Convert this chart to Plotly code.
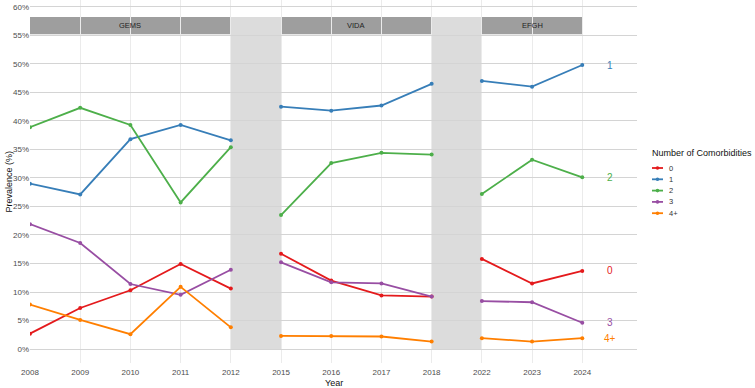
import plotly.graph_objects as go

# ---------------- data ----------------
years = ["2008", "2009", "2010", "2011", "2012",
         "2015", "2016", "2017", "2018",
         "2022", "2023", "2024"]
studies = ["GEMS"] * 5 + ["VIDA"] * 4 + ["EFGH"] * 3
study_names = ["GEMS", "VIDA", "EFGH"]

series_names = ["0", "1", "2", "3", "4+"]
prev_0 = [2.7, 7.2, 10.3, 14.9, 10.6, 16.7, 12.0, 9.4, 9.2, 15.8, 11.5, 13.7]
prev_1 = [29.0, 27.1, 36.8, 39.3, 36.6, 42.5, 41.8, 42.7, 46.5, 47.0, 46.0, 49.8]
prev_2 = [38.9, 42.3, 39.3, 25.7, 35.4, 23.5, 32.6, 34.4, 34.1, 27.2, 33.2, 30.1]
prev_3 = [21.9, 18.6, 11.4, 9.5, 13.9, 15.2, 11.7, 11.5, 9.2, 8.4, 8.2, 4.6]
prev_4 = [7.8, 5.1, 2.6, 10.9, 3.8, 2.3, 2.3, 2.2, 1.3, 1.9, 1.3, 1.9]
series_values = [prev_0, prev_1, prev_2, prev_3, prev_4]

colors = ["#E41A1C", "#377EB8", "#4DAF4A", "#984EA3", "#FF7F00"]
y_ticks = list(range(0, 61, 5))

FONT = "Liberation Sans, Arial, sans-serif"

fig = go.Figure()

def split_xy(vals):
    xs, ys = [], []
    for i, v in enumerate(vals):
        if i > 0 and studies[i] != studies[i - 1]:
            xs.append(None)
            ys.append(None)
        xs.append(i)
        ys.append(v)
    return xs, ys

# strips and shaded gaps between study periods
strip_lo, strip_hi = 55.2, 58.2
for s in study_names:
    idx = [i for i, st in enumerate(studies) if st == s]
    fig.add_shape(type="rect", xref="x", yref="y", x0=idx[0], x1=idx[-1],
                  y0=strip_lo, y1=strip_hi, fillcolor="#9e9e9e",
                  line=dict(width=0), layer="below")
    fig.add_annotation(x=(idx[0] + idx[-1]) / 2, y=(strip_lo + strip_hi) / 2,
                       text=s, showarrow=False,
                       font=dict(family=FONT, size=7.5, color="#222222"))
for i in range(1, len(years)):
    if studies[i] != studies[i - 1]:
        fig.add_shape(type="rect", xref="x", yref="y", x0=i - 1, x1=i,
                      y0=0, y1=strip_hi, fillcolor="#dcdcdc",
                      line=dict(width=0), layer="below")

for name, vals, col in zip(series_names, series_values, colors):
    xs, ys = split_xy(vals)
    fig.add_trace(go.Scatter(
        x=xs, y=ys, mode="lines+markers", name=name,
        line=dict(color=col, width=1.8),
        marker=dict(color=col, size=4),
        connectgaps=False, showlegend=False,
    ))
    fig.add_annotation(x=len(years) - 1 + 0.55, y=vals[-1], text=name,
                       showarrow=False, xanchor="center",
                       font=dict(family=FONT, size=10, color=col))

# manual compact legend (ggplot-style) in the right margin
W, H, L, B = 755, 388, 30, 25
pw, ph = W - L - 118, H - B
def px(xp):
    return (xp - L) / pw
def py(yp):
    return (H - B - yp) / ph

fig.add_annotation(xref="paper", yref="paper", x=px(650), y=py(153),
                   xanchor="left", yanchor="middle",
                   text="Number of Comorbidities", showarrow=False,
                   font=dict(family=FONT, size=9, color="#111111"))
for k, (name, col) in enumerate(zip(series_names, colors)):
    yy = 168 + k * 11.3
    fig.add_shape(type="line", xref="paper", yref="paper",
                  x0=px(652), x1=px(663), y0=py(yy), y1=py(yy),
                  line=dict(color=col, width=1.8))
    fig.add_shape(type="circle", xref="paper", yref="paper",
                  x0=px(655.7), x1=px(659.3), y0=py(yy + 1.8), y1=py(yy - 1.8),
                  fillcolor=col, line=dict(width=0))
    fig.add_annotation(xref="paper", yref="paper", x=px(667), y=py(yy),
                       xanchor="left", yanchor="middle", text=name,
                       showarrow=False,
                       font=dict(family=FONT, size=7.5, color="#333333"))

fig.update_layout(
    width=W, height=H,
    margin=dict(l=L, r=118, t=0, b=B),
    plot_bgcolor="white", paper_bgcolor="white",
    font=dict(family=FONT, size=8, color="#4d4d4d"),
    showlegend=False,
)
fig.update_xaxes(
    range=[0, 12.09], tickmode="array",
    tickvals=list(range(len(years))), ticktext=years,
    showgrid=True, gridcolor="#ebebeb", gridwidth=1,
    zeroline=False, showline=False, ticks="", ticklabelstandoff=3,
    tickfont=dict(family=FONT, size=8, color="#4d4d4d"),
)
fig.update_yaxes(
    range=[-2.45, 61.2], tickmode="array", tickvals=y_ticks,
    ticktext=[f"{t}%" for t in y_ticks],
    showgrid=True, gridcolor="#d4d4d4", gridwidth=1,
    zeroline=False, showline=False, ticks="",
    tickfont=dict(family=FONT, size=8, color="#4d4d4d"),
)
fig.add_annotation(xref="paper", yref="paper", x=0.5, y=py(383),
                   yanchor="middle", text="Year", showarrow=False,
                   font=dict(family=FONT, size=9, color="#111111"))
fig.add_annotation(xref="paper", yref="paper", x=px(8), y=0.5,
                   xanchor="center", yanchor="middle",
                   text="Prevalence (%)", textangle=-90,
                   showarrow=False,
                   font=dict(family=FONT, size=9, color="#111111"))

fig.write_html("out.html")
